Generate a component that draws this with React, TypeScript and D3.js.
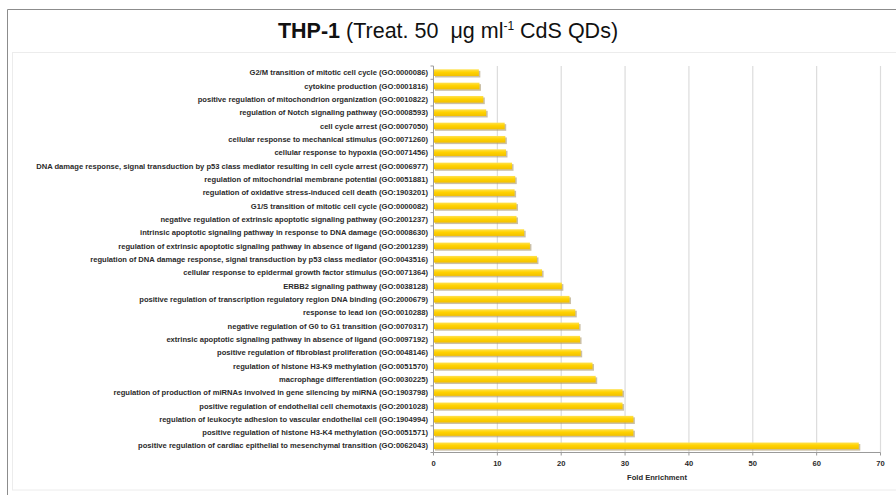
import React from "react";
import * as d3 from "d3";

const categories = [
  "G2/M transition of mitotic cell cycle (GO:0000086)",
  "cytokine production (GO:0001816)",
  "positive regulation of mitochondrion organization (GO:0010822)",
  "regulation of Notch signaling pathway (GO:0008593)",
  "cell cycle arrest (GO:0007050)",
  "cellular response to mechanical stimulus (GO:0071260)",
  "cellular response to hypoxia (GO:0071456)",
  "DNA damage response, signal transduction by p53 class mediator resulting in cell cycle arrest (GO:0006977)",
  "regulation of mitochondrial membrane potential (GO:0051881)",
  "regulation of oxidative stress-induced cell death (GO:1903201)",
  "G1/S transition of mitotic cell cycle (GO:0000082)",
  "negative regulation of extrinsic apoptotic signaling pathway (GO:2001237)",
  "intrinsic apoptotic signaling pathway in response to DNA damage (GO:0008630)",
  "regulation of extrinsic apoptotic signaling pathway in absence of ligand (GO:2001239)",
  "regulation of DNA damage response, signal transduction by p53 class mediator (GO:0043516)",
  "cellular response to epidermal growth factor stimulus (GO:0071364)",
  "ERBB2 signaling pathway (GO:0038128)",
  "positive regulation of transcription regulatory region DNA binding (GO:2000679)",
  "response to lead ion (GO:0010288)",
  "negative regulation of G0 to G1 transition (GO:0070317)",
  "extrinsic apoptotic signaling pathway in absence of ligand (GO:0097192)",
  "positive regulation of fibroblast proliferation (GO:0048146)",
  "regulation of histone H3-K9 methylation (GO:0051570)",
  "macrophage differentiation (GO:0030225)",
  "regulation of production of miRNAs involved in gene silencing by miRNA (GO:1903798)",
  "positive regulation of endothelial cell chemotaxis (GO:2001028)",
  "regulation of leukocyte adhesion to vascular endothelial cell (GO:1904994)",
  "positive regulation of histone H3-K4 methylation (GO:0051571)",
  "positive regulation of cardiac epithelial to mesenchymal transition (GO:0062043)",
];

const foldEnrichment = [
  7.1, 7.2, 7.8, 8.25, 11.15, 11.25, 11.35, 12.3, 12.8, 12.7, 13.0, 13.0, 14.2,
  15.1, 16.2, 17.0, 20.1, 21.3, 22.2, 22.8, 22.95, 23.05, 24.9, 25.4, 29.6,
  29.6, 31.3, 31.3, 66.6,
];

const xTicks = [0, 10, 20, 30, 40, 50, 60, 70];

const W = 896;
const H = 495;
const FONT = "'Liberation Sans', Arial, Helvetica, sans-serif";

export default function App() {
  const x0 = 433.5;
  const x1 = 880.5;
  const yTop = 66;
  const yBot = 452.5;
  const x = d3.scaleLinear().domain([0, 70]).range([x0, x1]);
  const y = d3
    .scaleBand<string>()
    .domain(categories)
    .range([yTop, yBot])
    .paddingInner(0.5)
    .paddingOuter(0.25);
  const band = (yBot - yTop) / categories.length;
  const bh = y.bandwidth();

  return (
    <svg
      width={W}
      height={H}
      style={{ position: "absolute", left: 0, top: 0, display: "block" }}
      fontFamily={FONT}
    >
      <defs>
        <linearGradient id="barGrad" x1="0" y1="0" x2="0" y2="1">
          <stop offset="0" stopColor="#FFE250" />
          <stop offset="0.45" stopColor="#FFD200" />
          <stop offset="1" stopColor="#F2C000" />
        </linearGradient>
      </defs>
      <rect x={0} y={0} width={W} height={H} fill="#fff" />
      {/* outer frame */}
      <line x1={7.5} y1={9.5} x2={W} y2={9.5} stroke="#8c8c8c" strokeWidth={1} />
      <line x1={7.5} y1={9.5} x2={7.5} y2={H} stroke="#8c8c8c" strokeWidth={1} />
      {/* inner box */}
      <rect
        x={12.5}
        y={52.5}
        width={W}
        height={437.5}
        fill="#fff"
        stroke="#ececec"
        strokeWidth={1}
      />
      {/* title */}
      <text x={448} y={38} textAnchor="middle" fontSize={21.5} fill="#111">
        <tspan fontWeight="bold">THP-1</tspan>
        <tspan> (Treat. 50 {"\u00A0"}μg ml</tspan>
        <tspan fontSize={12} dy={-8}>-1</tspan>
        <tspan dy={8}> CdS QDs)</tspan>
      </text>
      {/* gridlines */}
      {xTicks
        .filter((t) => t > 0)
        .map((t) => (
          <line
            key={"g" + t}
            x1={x(t)}
            x2={x(t)}
            y1={yTop}
            y2={yBot}
            stroke="#dcdcdc"
            strokeWidth={1.2}
          />
        ))}
      {/* bars */}
      {categories.map((c, i) => {
        const yy = y(c)!;
        const w = x(foldEnrichment[i]) - x0;
        return (
          <g key={c}>
            <rect
              x={x0 + 1.5}
              y={yy + 1.5}
              width={w}
              height={bh}
              fill="#a8966a"
              opacity={0.6}
            />
            <rect x={x0} y={yy} width={w} height={bh} fill="url(#barGrad)" />
          </g>
        );
      })}
      {/* y axis */}
      <line x1={x0} x2={x0} y1={yTop} y2={yBot} stroke="#9a9a9a" strokeWidth={1} />
      {d3.range(categories.length + 1).map((i) => (
        <line
          key={"yt" + i}
          x1={x0 - 3}
          x2={x0}
          y1={yTop + i * band}
          y2={yTop + i * band}
          stroke="#9a9a9a"
          strokeWidth={1}
        />
      ))}
      {/* category labels */}
      {categories.map((c) => (
        <text
          key={"l" + c}
          x={428}
          y={y(c)! + bh / 2}
          dy="0.35em"
          textAnchor="end"
          fontSize={7.6}
          fontWeight="bold"
          fill="#2a2a2a"
        >
          {c}
        </text>
      ))}
      {/* x axis */}
      <line x1={x0} x2={x1} y1={yBot} y2={yBot} stroke="#9a9a9a" strokeWidth={1} />
      {xTicks.map((t) => (
        <g key={"xt" + t}>
          <line x1={x(t)} x2={x(t)} y1={yBot} y2={yBot + 3} stroke="#9a9a9a" />
          <text
            x={x(t)}
            y={yBot + 13}
            textAnchor="middle"
            fontSize={7.6}
            fontWeight="bold"
            fill="#2a2a2a"
          >
            {t}
          </text>
        </g>
      ))}
      <text
        x={(x0 + x1) / 2}
        y={480}
        textAnchor="middle"
        fontSize={7.6}
        fontWeight="bold"
        fill="#2a2a2a"
      >
        Fold Enrichment
      </text>
    </svg>
  );
}
